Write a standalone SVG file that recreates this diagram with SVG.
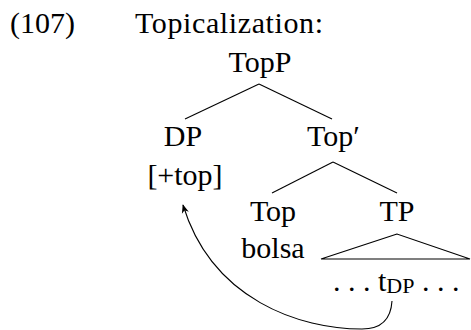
<svg xmlns="http://www.w3.org/2000/svg" width="471" height="330" viewBox="0 0 471 330" font-family="Liberation Serif, serif">
<style>
text{font-family:'Liberation Serif',serif;font-size:30px;fill:#000}
.c{text-anchor:middle}
.sub{font-size:22px}
line,path{stroke:#000;stroke-width:1.1;fill:none}
.tri{stroke:#000;stroke-width:1.1;fill:none}
</style>
<defs>
<marker id="ah" viewBox="0 0 10 10" refX="9" refY="5" markerWidth="9" markerHeight="9" markerUnits="userSpaceOnUse" orient="auto">
<path d="M0,1 L10,5 L0,9 L3,5 Z" style="fill:#000;stroke:none"/>
</marker>
</defs>
<g id="label"><text x="10" y="33">(107)</text><text x="135" y="33" textLength="188" lengthAdjust="spacing">Topicalization:</text></g>
<g id="TopP"><text class="c" x="260" y="72">TopP</text></g>
<g id="DP"><text class="c" x="183" y="146">DP</text><text class="c" x="185" y="185">[+top]</text></g>
<g id="TopBar"><text x="307" y="146">Top′</text></g>
<g id="Top"><text class="c" x="273" y="221">Top</text><text class="c" x="273" y="258">bolsa</text></g>
<g id="TP"><text class="c" x="397" y="221">TP</text><text x="333" y="291">. . . t<tspan class="sub" dy="2">DP</tspan><tspan dy="-2"> . . .</tspan></text></g>
<g id="connectors">
<line x1="259" y1="84" x2="185" y2="119"/>
<line x1="259" y1="84" x2="332" y2="119"/>
<line x1="333" y1="162" x2="272" y2="193"/>
<line x1="333" y1="162" x2="397" y2="193"/>
<polygon class="tri" points="397,234 321,259 470,259"/>
<path d="M392,301 C391,318 382,329 362,329 C300,329 212,300 183,205" marker-end="url(#ah)"/>
</g>
</svg>
